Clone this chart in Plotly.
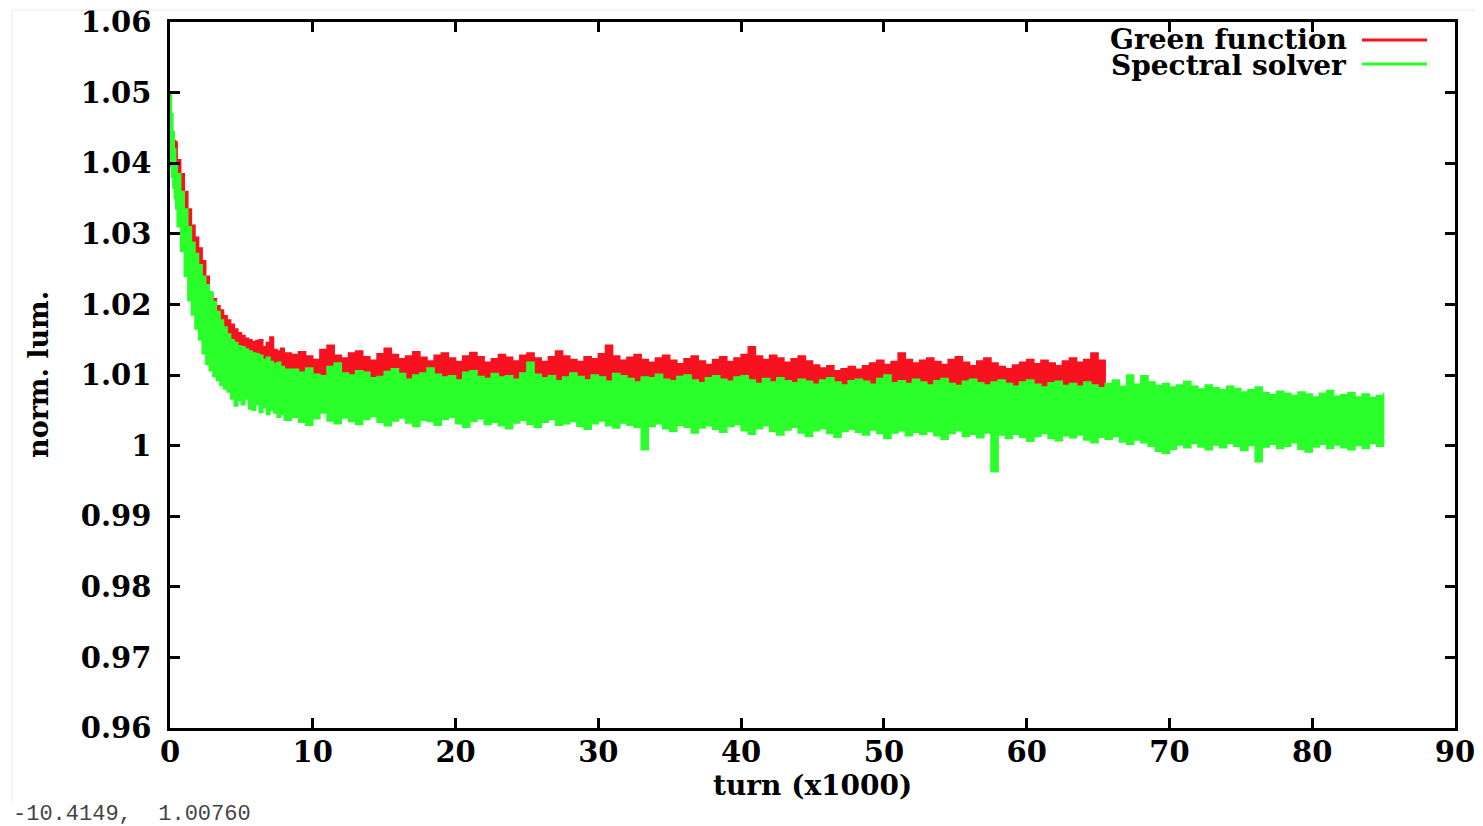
import numpy as np
import plotly.graph_objects as go

# ---------------------------------------------------------------------------
# Normalised luminosity vs. turn number (x1000), envelope of the noisy trace
# sampled along the turn axis: upper (hi) and lower (lo) excursions.
# ---------------------------------------------------------------------------

# Spectral solver: turns (x1000)
spectral_turn_start = [0.0, 0.1, 0.2, 0.3, 0.4,
                       0.5, 0.75, 1.0, 1.25, 1.5, 1.75, 2.0, 2.25, 2.5, 2.75,
                       3.0, 3.25, 3.5, 3.75, 4.0, 4.25, 4.5, 4.75, 5.0, 5.25,
                       5.5, 5.75, 6.0, 6.25, 6.5, 6.75, 7.0, 7.25, 7.5, 7.75, 8.0]
spectral_turn_rest = np.arange(8.5, 85.01, 0.5)

spectral_hi = [
    1.0497, 1.0470, 1.0445, 1.0420, 1.0400,
    1.0385, 1.0360, 1.0335, 1.0310, 1.0288, 1.0272, 1.0256, 1.0240, 1.0228, 1.0218,
    1.0204, 1.0190, 1.0178, 1.0168, 1.0158, 1.0150, 1.0146, 1.0141, 1.0140, 1.0137,
    1.0134, 1.0131, 1.0130, 1.0128, 1.0122, 1.0125, 1.0119, 1.0116, 1.0118, 1.0112, 1.0108,
    # 8.5 - 13.0
    1.0108, 1.0104, 1.0110, 1.0101, 1.0099, 1.0112, 1.0117, 1.0103, 1.0100, 1.0106,
    # 13.5 - 18.0
    1.0104, 1.0096, 1.0098, 1.0105, 1.0109, 1.0102, 1.0094, 1.0100, 1.0103, 1.0110,
    # 18.5 - 23.0
    1.0101, 1.0097, 1.0099, 1.0093, 1.0104, 1.0106, 1.0098, 1.0095, 1.0102, 1.0097,
    # 23.5 - 28.0
    1.0099, 1.0094, 1.0103, 1.0118, 1.0101, 1.0096, 1.0099, 1.0092, 1.0097, 1.0103,
    # 28.5 - 33.0
    1.0098, 1.0093, 1.0100, 1.0097, 1.0091, 1.0102, 1.0099, 1.0095, 1.0090, 1.0097,
    # 33.5 - 38.0
    1.0096, 1.0101, 1.0094, 1.0092, 1.0098, 1.0100, 1.0093, 1.0089, 1.0096, 1.0099,
    # 38.5 - 43.0
    1.0094, 1.0091, 1.0097, 1.0099, 1.0093, 1.0088, 1.0095, 1.0090, 1.0096, 1.0092,
    # 43.5 - 48.0
    1.0089, 1.0094, 1.0091, 1.0087, 1.0093, 1.0096, 1.0090, 1.0086, 1.0092, 1.0094,
    # 48.5 - 53.0
    1.0091, 1.0087, 1.0095, 1.0100, 1.0089, 1.0092, 1.0088, 1.0094, 1.0090, 1.0086,
    # 53.5 - 58.0
    1.0092, 1.0095, 1.0088, 1.0085, 1.0091, 1.0094, 1.0089, 1.0086, 1.0090, 1.0093,
    # 58.5 - 63.0
    1.0088, 1.0084, 1.0090, 1.0093, 1.0087, 1.0083, 1.0089, 1.0091, 1.0085, 1.0088,
    # 63.5 - 68.0
    1.0084, 1.0090, 1.0086, 1.0082, 1.0088, 1.0093, 1.0084, 1.0100, 1.0087, 1.0099,
    # 68.5 - 73.0
    1.0090, 1.0085, 1.0088, 1.0083, 1.0086, 1.0091, 1.0084, 1.0080, 1.0086, 1.0082,
    # 73.5 - 78.0
    1.0079, 1.0084, 1.0081, 1.0076, 1.0079, 1.0083, 1.0075, 1.0072, 1.0077, 1.0074,
    # 78.5 - 83.0
    1.0071, 1.0076, 1.0073, 1.0069, 1.0074, 1.0078, 1.0070, 1.0072, 1.0075, 1.0069,
    # 83.5 - 85.0
    1.0073, 1.0068, 1.0071, 1.0075,
]

spectral_lo = [
    1.0410, 1.0395, 1.0380, 1.0365, 1.0350,
    1.0335, 1.0310, 1.0275, 1.0240, 1.0205, 1.0185, 1.0165, 1.0150, 1.0130, 1.0115,
    1.0106, 1.0098, 1.0092, 1.0085, 1.0080, 1.0076, 1.0066, 1.0056, 1.0064, 1.0058,
    1.0066, 1.0052, 1.0050, 1.0058, 1.0047, 1.0054, 1.0044, 1.0050, 1.0046, 1.0040, 1.0044,
    # 8.5 - 13.0
    1.0036, 1.0040, 1.0033, 1.0029, 1.0038, 1.0046, 1.0035, 1.0031, 1.0039, 1.0034,
    # 13.5 - 18.0
    1.0030, 1.0037, 1.0041, 1.0033, 1.0028, 1.0035, 1.0039, 1.0032, 1.0027, 1.0036,
    # 18.5 - 23.0
    1.0034, 1.0029, 1.0037, 1.0040, 1.0031, 1.0026, 1.0034, 1.0038, 1.0030, 1.0033,
    # 23.5 - 28.0
    1.0028, 1.0024, 1.0032, 1.0036, 1.0030, 1.0026, 1.0033, 1.0037, 1.0029, 1.0031,
    # 28.5 - 33.0
    1.0034, 1.0027, 1.0023, 1.0031, 1.0035, 1.0028, 1.0025, 1.0032, 1.0029, 1.0026,
    # 33.5 - 38.0
    0.9994, 1.0027, 1.0031, 1.0024, 1.0020, 1.0029, 1.0026, 1.0018, 1.0025, 1.0028,
    # 38.5 - 43.0
    1.0023, 1.0019, 1.0027, 1.0030, 1.0021, 1.0016, 1.0024, 1.0028, 1.0020, 1.0015,
    # 43.5 - 48.0
    1.0022, 1.0026, 1.0018, 1.0013, 1.0021, 1.0024, 1.0017, 1.0012, 1.0020, 1.0023,
    # 48.5 - 53.0
    1.0019, 1.0015, 1.0022, 1.0017, 1.0010, 1.0018, 1.0021, 1.0014, 1.0019, 1.0016,
    # 53.5 - 58.0
    1.0020, 1.0014, 1.0009, 1.0017, 1.0021, 1.0013, 1.0016, 1.0011, 1.0018, 0.9963,
    # 58.5 - 63.0
    1.0015, 1.0010, 1.0016, 1.0012, 1.0006, 1.0013, 1.0017, 1.0010, 1.0007, 1.0014,
    # 63.5 - 68.0
    1.0011, 1.0015, 1.0008, 1.0004, 1.0012, 1.0009, 1.0013, 1.0005, 1.0002, 1.0008,
    # 68.5 - 73.0
    1.0004, 0.9999, 0.9992, 0.9989, 0.9995, 1.0001, 0.9997, 1.0003, 0.9998, 0.9994,
    # 73.5 - 78.0
    1.0001, 0.9997, 1.0003, 0.9999, 0.9993, 1.0000, 0.9977, 0.9998, 1.0002, 0.9996,
    # 78.5 - 83.0
    0.9999, 1.0004, 0.9995, 0.9991, 0.9998, 1.0002, 0.9996, 1.0001, 0.9997, 0.9994,
    # 83.5 - 85.0
    1.0000, 0.9996, 1.0003, 0.9999,
]

# Green function: turns (x1000)
green_turn_start = [0.3, 0.4,
                    0.5, 0.75, 1.0, 1.25, 1.5, 1.75, 2.0, 2.25, 2.5, 2.75,
                    3.0, 3.25, 3.5, 3.75, 4.0, 4.25, 4.5, 4.75, 5.0, 5.25,
                    5.5, 5.75, 6.0, 6.25, 6.5, 6.75, 7.0, 7.25, 7.5, 7.75, 8.0]
green_turn_rest = np.arange(8.5, 65.51, 0.5)

green_hi = [
    1.0432, 1.0430,
    1.0405, 1.0385, 1.0360, 1.0335, 1.0312, 1.0295, 1.0280, 1.0262, 1.0240, 1.0215,
    1.0208, 1.0198, 1.0192, 1.0184, 1.0178, 1.0172, 1.0165, 1.0160, 1.0156, 1.0152,
    1.0150, 1.0147, 1.0149, 1.0150, 1.0140, 1.0146, 1.0154, 1.0136, 1.0134, 1.0138, 1.0131,
    # 8.5 - 13.0
    1.0129, 1.0133, 1.0127, 1.0122, 1.0136, 1.0142, 1.0128, 1.0124, 1.0131, 1.0134,
    # 13.5 - 18.0
    1.0126, 1.0121, 1.0130, 1.0138, 1.0129, 1.0123, 1.0127, 1.0133, 1.0125, 1.0120,
    # 18.5 - 23.0
    1.0128, 1.0131, 1.0124, 1.0119, 1.0127, 1.0132, 1.0126, 1.0118, 1.0123, 1.0129,
    # 23.5 - 28.0
    1.0125, 1.0120, 1.0128, 1.0131, 1.0124, 1.0119, 1.0126, 1.0134, 1.0127, 1.0122,
    # 28.5 - 33.0
    1.0119, 1.0126, 1.0123, 1.0130, 1.0142, 1.0127, 1.0121, 1.0125, 1.0129, 1.0122,
    # 33.5 - 38.0
    1.0118, 1.0124, 1.0128, 1.0121, 1.0116, 1.0123, 1.0127, 1.0120, 1.0115, 1.0122,
    # 38.5 - 43.0
    1.0126, 1.0119, 1.0124, 1.0129, 1.0140, 1.0127, 1.0122, 1.0128, 1.0124, 1.0118,
    # 43.5 - 48.0
    1.0123, 1.0127, 1.0120, 1.0114, 1.0110, 1.0113, 1.0106, 1.0109, 1.0112, 1.0108,
    # 48.5 - 53.0
    1.0113, 1.0117, 1.0121, 1.0115, 1.0119, 1.0131, 1.0122, 1.0117, 1.0121, 1.0124,
    # 53.5 - 58.0
    1.0119, 1.0115, 1.0122, 1.0126, 1.0118, 1.0113, 1.0120, 1.0124, 1.0117, 1.0112,
    # 58.5 - 63.0
    1.0109, 1.0114, 1.0118, 1.0122, 1.0116, 1.0121, 1.0117, 1.0113, 1.0120, 1.0124,
    # 63.5 - 65.5
    1.0118, 1.0122, 1.0131, 1.0121, 1.0117,
]

green_lo = [
    1.0400, 1.0380,
    1.0365, 1.0340, 1.0315, 1.0290, 1.0268, 1.0252, 1.0236, 1.0220, 1.0208, 1.0198,
    1.0184, 1.0170, 1.0158, 1.0148, 1.0138, 1.0130, 1.0126, 1.0121, 1.0120, 1.0117,
    1.0114, 1.0111, 1.0110, 1.0108, 1.0102, 1.0105, 1.0099, 1.0096, 1.0098, 1.0092, 1.0088,
    # 8.5 - 13.0
    1.0074, 1.0068, 1.0072, 1.0065, 1.0070, 1.0076, 1.0066, 1.0071, 1.0063, 1.0069,
    # 13.5 - 18.0
    1.0073, 1.0064, 1.0070, 1.0067, 1.0075, 1.0062, 1.0068, 1.0072, 1.0065, 1.0070,
    # 18.5 - 23.0
    1.0066, 1.0071, 1.0063, 1.0069, 1.0074, 1.0064, 1.0070, 1.0066, 1.0072, 1.0062,
    # 23.5 - 28.0
    1.0068, 1.0073, 1.0065, 1.0070, 1.0063, 1.0069, 1.0074, 1.0064, 1.0067, 1.0071,
    # 28.5 - 33.0
    1.0065, 1.0070, 1.0062, 1.0068, 1.0073, 1.0064, 1.0069, 1.0066, 1.0071, 1.0063,
    # 33.5 - 38.0
    1.0068, 1.0072, 1.0064, 1.0069, 1.0062, 1.0067, 1.0071, 1.0065, 1.0070, 1.0063,
    # 38.5 - 43.0
    1.0066, 1.0071, 1.0063, 1.0068, 1.0072, 1.0064, 1.0069, 1.0062, 1.0067, 1.0070,
    # 43.5 - 48.0
    1.0064, 1.0068, 1.0062, 1.0066, 1.0070, 1.0063, 1.0067, 1.0061, 1.0065, 1.0069,
    # 48.5 - 53.0
    1.0063, 1.0067, 1.0071, 1.0064, 1.0062, 1.0068, 1.0065, 1.0070, 1.0063, 1.0066,
    # 53.5 - 58.0
    1.0062, 1.0068, 1.0064, 1.0061, 1.0069, 1.0065, 1.0067, 1.0062, 1.0066, 1.0063,
    # 58.5 - 63.0
    1.0067, 1.0064, 1.0061, 1.0068, 1.0065, 1.0062, 1.0066, 1.0064, 1.0060, 1.0067,
    # 63.5 - 65.5
    1.0064, 1.0061, 1.0066, 1.0063, 1.0065,
]

x_ticks = [0, 10, 20, 30, 40, 50, 60, 70, 80, 90]
y_ticks = [0.96, 0.97, 0.98, 0.99, 1.00, 1.01, 1.02, 1.03, 1.04, 1.05, 1.06]
y_tick_text = ["0.96", "0.97", "0.98", "0.99", "1", "1.01", "1.02", "1.03",
               "1.04", "1.05", "1.06"]

RED = "#f8121f"
GREEN = "#2aff2c"
FONT = "DejaVu Serif"
W, H = 1483, 826
L, R, T, B = 170, 28, 22, 98


def band(turn, hi, lo, color, name):
    """Closed stepped polygon through the upper then the lower excursions."""
    turn = list(turn)
    xs = turn + turn[::-1]
    ys = list(hi) + list(lo)[::-1]
    return go.Scatter(
        x=xs, y=ys, mode="lines", line=dict(color=color, width=1.5, shape="hv"),
        fill="toself", fillcolor=color, name=name, showlegend=False,
        hoverinfo="skip",
    )


green_turn = list(green_turn_start) + [float(v) for v in green_turn_rest]
spectral_turn = list(spectral_turn_start) + [float(v) for v in spectral_turn_rest]

fig = go.Figure()
fig.add_trace(band(green_turn, green_hi, green_lo, RED, "Green function"))
fig.add_trace(band(spectral_turn, spectral_hi, spectral_lo, GREEN, "Spectral solver"))

axis_common = dict(
    showline=True, linecolor="black", linewidth=2.5, mirror="ticks",
    ticks="inside", ticklen=10, tickwidth=2.5, tickcolor="black",
    showgrid=False, zeroline=False, automargin=False,
    tickfont=dict(family=FONT, size=29, color="black", weight="bold"),
)

fig.update_xaxes(range=[0, 90], tickvals=x_ticks,
                 ticktext=[str(v) for v in x_ticks],
                 ticklabelstandoff=-4, **axis_common)
fig.update_yaxes(range=[0.96, 1.06], tickvals=y_ticks, ticktext=y_tick_text,
                 ticklabelstandoff=10, **axis_common)


def px_x(px):
    return (px - L) / (W - L - R)


def px_y(py):
    return (H - B - py) / (H - T - B)


title_font = dict(family=FONT, size=28, color="black", weight="bold")
legend_font = dict(family=FONT, size=28, color="black", weight="bold")
annotations = [
    dict(text="norm. lum.", x=px_x(38), y=0.5, textangle=-90,
         xanchor="center", yanchor="middle",
         font=dict(family=FONT, size=27, color="black", weight="bold")),
    dict(text="turn (x1000)", x=0.5, y=px_y(785),
         xanchor="center", yanchor="middle", font=title_font),
    dict(text="Green function", x=px_x(1349), y=px_y(39),
         xanchor="right", yanchor="middle", font=legend_font),
    dict(text="Spectral solver", x=px_x(1349), y=px_y(65),
         xanchor="right", yanchor="middle", font=legend_font),
    dict(text="-10.4149,  1.00760", x=px_x(11), y=px_y(815),
         xanchor="left", yanchor="middle",
         font=dict(family="Liberation Mono", size=22, color="#444444")),
]
for a in annotations:
    a.update(xref="paper", yref="paper", showarrow=False)

shapes = [
    dict(type="line", x0=px_x(1362), x1=px_x(1427), y0=px_y(40), y1=px_y(40),
         line=dict(color=RED, width=3)),
    dict(type="line", x0=px_x(1362), x1=px_x(1427), y0=px_y(64), y1=px_y(64),
         line=dict(color=GREEN, width=3)),
    # thin window frame around the canvas
    dict(type="line", x0=px_x(12), x1=px_x(12), y0=px_y(10), y1=px_y(802),
         line=dict(color="#e6ebf2", width=1)),
    dict(type="line", x0=px_x(12), x1=px_x(1475), y0=px_y(10), y1=px_y(10),
         line=dict(color="#e6ebf2", width=1)),
]
for s in shapes:
    s.update(xref="paper", yref="paper")

fig.update_layout(
    width=W, height=H,
    margin=dict(l=L, r=R, t=T, b=B),
    paper_bgcolor="white", plot_bgcolor="white",
    showlegend=False,
    annotations=annotations, shapes=shapes,
)

fig.write_html("out.html")
